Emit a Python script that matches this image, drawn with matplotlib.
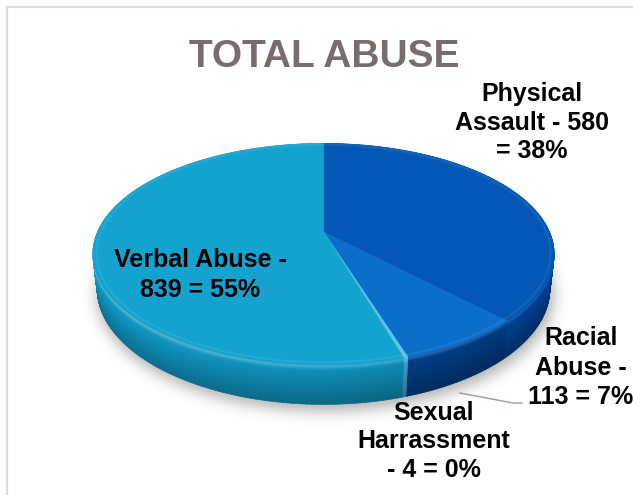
import numpy as np
import matplotlib
matplotlib.use("Agg")
import matplotlib.pyplot as plt
import matplotlib.colors as mcolors
from matplotlib.collections import PolyCollection
from matplotlib.path import Path
from matplotlib import font_manager as fm

# ---- data -------------------------------------------------------------
categories = ["Physical Assault", "Racial Abuse", "Sexual Harrassment", "Verbal Abuse"]
counts = [580, 113, 4, 839]
top_colors = ["#0457B4", "#0B6ECB", "#5CC3E6", "#14A3CF"]
side_colors = ["#00489F", "#00408E", "#3FA8D0", "#0E94C0"]
title = "TOTAL ABUSE"

total = sum(counts)
pcts = [round(100 * c / total) for c in counts]

# wrapped label lines, as laid out next to each slice
label_lines = [
    ["Physical", f"Assault - {counts[0]}", f"= {pcts[0]}%"],
    ["Racial", "Abuse -", f"{counts[1]} = {pcts[1]}%"],
    ["Sexual", "Harrassment", f"- {counts[2]} = {pcts[2]}%"],
    ["Verbal Abuse -", f"{counts[3]} = {pcts[3]}%"],
]
label_x = [532, 581, 434, 200.5]
label_baselines = [[101, 129.5, 158], [345, 375, 403.5], [420, 448.5, 477], [267, 297]]

# ---- 3-D projection of the disc ---------------------------------------
W, Hpx = 633, 495
CX, CY, A, K, S = 323.5, 232.0, 226.0, 0.2, 0.47
C = np.sqrt(1 - S ** 2)
THICK = 0.175


def project(phi, r=1.0, z=0.0):
    X = r * np.sin(phi)
    Y = -r * np.cos(phi)
    den = 1 - K * Y - z * S * K / C
    return CX + A * X / den, CY + A * (Y * S - z * C) / den


def shade(color, f):
    rgb = np.array(mcolors.to_rgb(color))
    if f >= 1:
        rgb = rgb + (1 - rgb) * (f - 1)
    else:
        rgb = rgb * f
    return tuple(np.clip(rgb, 0, 1))


def wall_factor(t):
    # bright bevel lip at the top edge, darkening towards the base
    lip = 0.22 * np.exp(-((t - 0.04) / 0.07) ** 2)
    return 1.0 + lip - 0.30 * t


fig = plt.figure(figsize=(W / 100, Hpx / 100), dpi=100)
ax = fig.add_axes([0, 0, 1, 1])
ax.set_xlim(0, W)
ax.set_ylim(Hpx, 0)
ax.axis("off")

# chart frame
ax.plot([6.5, 6.5], [6, Hpx], color="#DCDCDC", lw=1.6, solid_capstyle="butt")
ax.plot([6, W], [6.5, 6.5], color="#DCDCDC", lw=1.6, solid_capstyle="butt")

# ---- soft shadow under the pie ----------------------------------------
phis = np.linspace(0, 2 * np.pi, 361)
sx, sy = project(phis, 1.01, -THICK)
shadow_path = Path(np.column_stack([sx + 2, sy + 5]))
gx, gy = np.meshgrid(np.arange(W) + 0.5, np.arange(Hpx) + 0.5)
mask = shadow_path.contains_points(np.column_stack([gx.ravel(), gy.ravel()])).reshape(Hpx, W).astype(float)
sig = 7.0
kx = np.arange(-3 * int(sig), 3 * int(sig) + 1)
kern = np.exp(-kx ** 2 / (2 * sig ** 2))
kern /= kern.sum()
blur = np.apply_along_axis(lambda m: np.convolve(m, kern, mode="same"), 1, mask)
blur = np.apply_along_axis(lambda m: np.convolve(m, kern, mode="same"), 0, blur)
shadow = np.zeros((Hpx, W, 4))
shadow[..., :3] = 0.45
shadow[..., 3] = blur * 0.55
ax.imshow(shadow, extent=(0, W, Hpx, 0), zorder=1, interpolation="bilinear")

# ---- slice angles -----------------------------------------------------
fracs = np.array(counts) / total
bounds = np.concatenate([[0], np.cumsum(fracs)]) * 2 * np.pi

# ---- outer walls, painted back to front --------------------------------
bands = np.linspace(0, 1, 31)
quads, qcols, qdepth = [], [], []
for i in range(len(counts)):
    a0, a1 = bounds[i], bounds[i + 1]
    n = max(2, int(np.degrees(a1 - a0) / 1.0) + 1)
    angs = np.linspace(a0, a1, n)
    for j in range(len(angs) - 1):
        p0, p1 = angs[j], angs[j + 1]
        pm = 0.5 * (p0 + p1)
        light = 1.0 - 0.10 * np.sin(pm)
        for b in range(len(bands) - 1):
            z0, z1 = -THICK * bands[b], -THICK * bands[b + 1]
            t = 0.5 * (bands[b] + bands[b + 1])
            x00, y00 = project(p0, 1, z0)
            x01, y01 = project(p1, 1, z0)
            x11, y11 = project(p1, 1, z1)
            x10, y10 = project(p0, 1, z1)
            quads.append([(x00, y00), (x01, y01), (x11, y11), (x10, y10)])
            qcols.append(shade(side_colors[i], wall_factor(t) * light))
            qdepth.append(-np.cos(pm))
order = np.argsort(qdepth, kind="stable")
walls = PolyCollection([quads[o] for o in order], facecolors=[qcols[o] for o in order],
                       edgecolors=[qcols[o] for o in order], linewidths=0.5, zorder=2)
ax.add_collection(walls)

# ---- top faces ---------------------------------------------------------
cx0, cy0 = project(0.0, 0.0, 0.0)
for i in range(len(counts)):
    a0, a1 = bounds[i], bounds[i + 1]
    n = max(3, int(np.degrees(a1 - a0) / 0.5) + 1)
    angs = np.linspace(a0, a1, n)
    xs, ys = project(angs, 1.0, 0.0)
    poly = np.column_stack([np.concatenate([[cx0], xs]), np.concatenate([[cy0], ys])])
    ax.add_patch(plt.Polygon(poly, closed=True, facecolor=top_colors[i],
                             edgecolor=top_colors[i], lw=0.5, zorder=3))
    # faint bevel highlight along the rim
    rx, ry = project(angs, 0.985, 0.0)
    ax.plot(rx, ry, color=shade(top_colors[i], 1.12), lw=1.5, zorder=3.5, alpha=0.6)

# ---- labels ------------------------------------------------------------
label_font = ["Liberation Sans", "DejaVu Sans"]
for lines, x, ys in zip(label_lines, label_x, label_baselines):
    for text, y in zip(lines, ys):
        ax.text(x, y, text, ha="center", va="baseline", fontsize=18,
                fontweight="bold", family=label_font, color="black", zorder=5)

# leader line for the racial abuse label
ax.plot([460, 513, 522], [393, 403, 403], color="#A8979B", lw=1.0, zorder=4)

# ---- title -------------------------------------------------------------
try:
    fm.findfont("Liberation Sans Narrow", fallback_to_default=False)
    title_font, title_size = ["Liberation Sans Narrow", "DejaVu Sans"], 34
except Exception:
    title_font, title_size = ["Liberation Sans", "DejaVu Sans"], 28
ax.text(324, 67, title, ha="center", va="baseline", fontsize=title_size,
        fontweight="bold", family=title_font, color="#786C6E", zorder=5)

fig.savefig("out.png", dpi=100)
